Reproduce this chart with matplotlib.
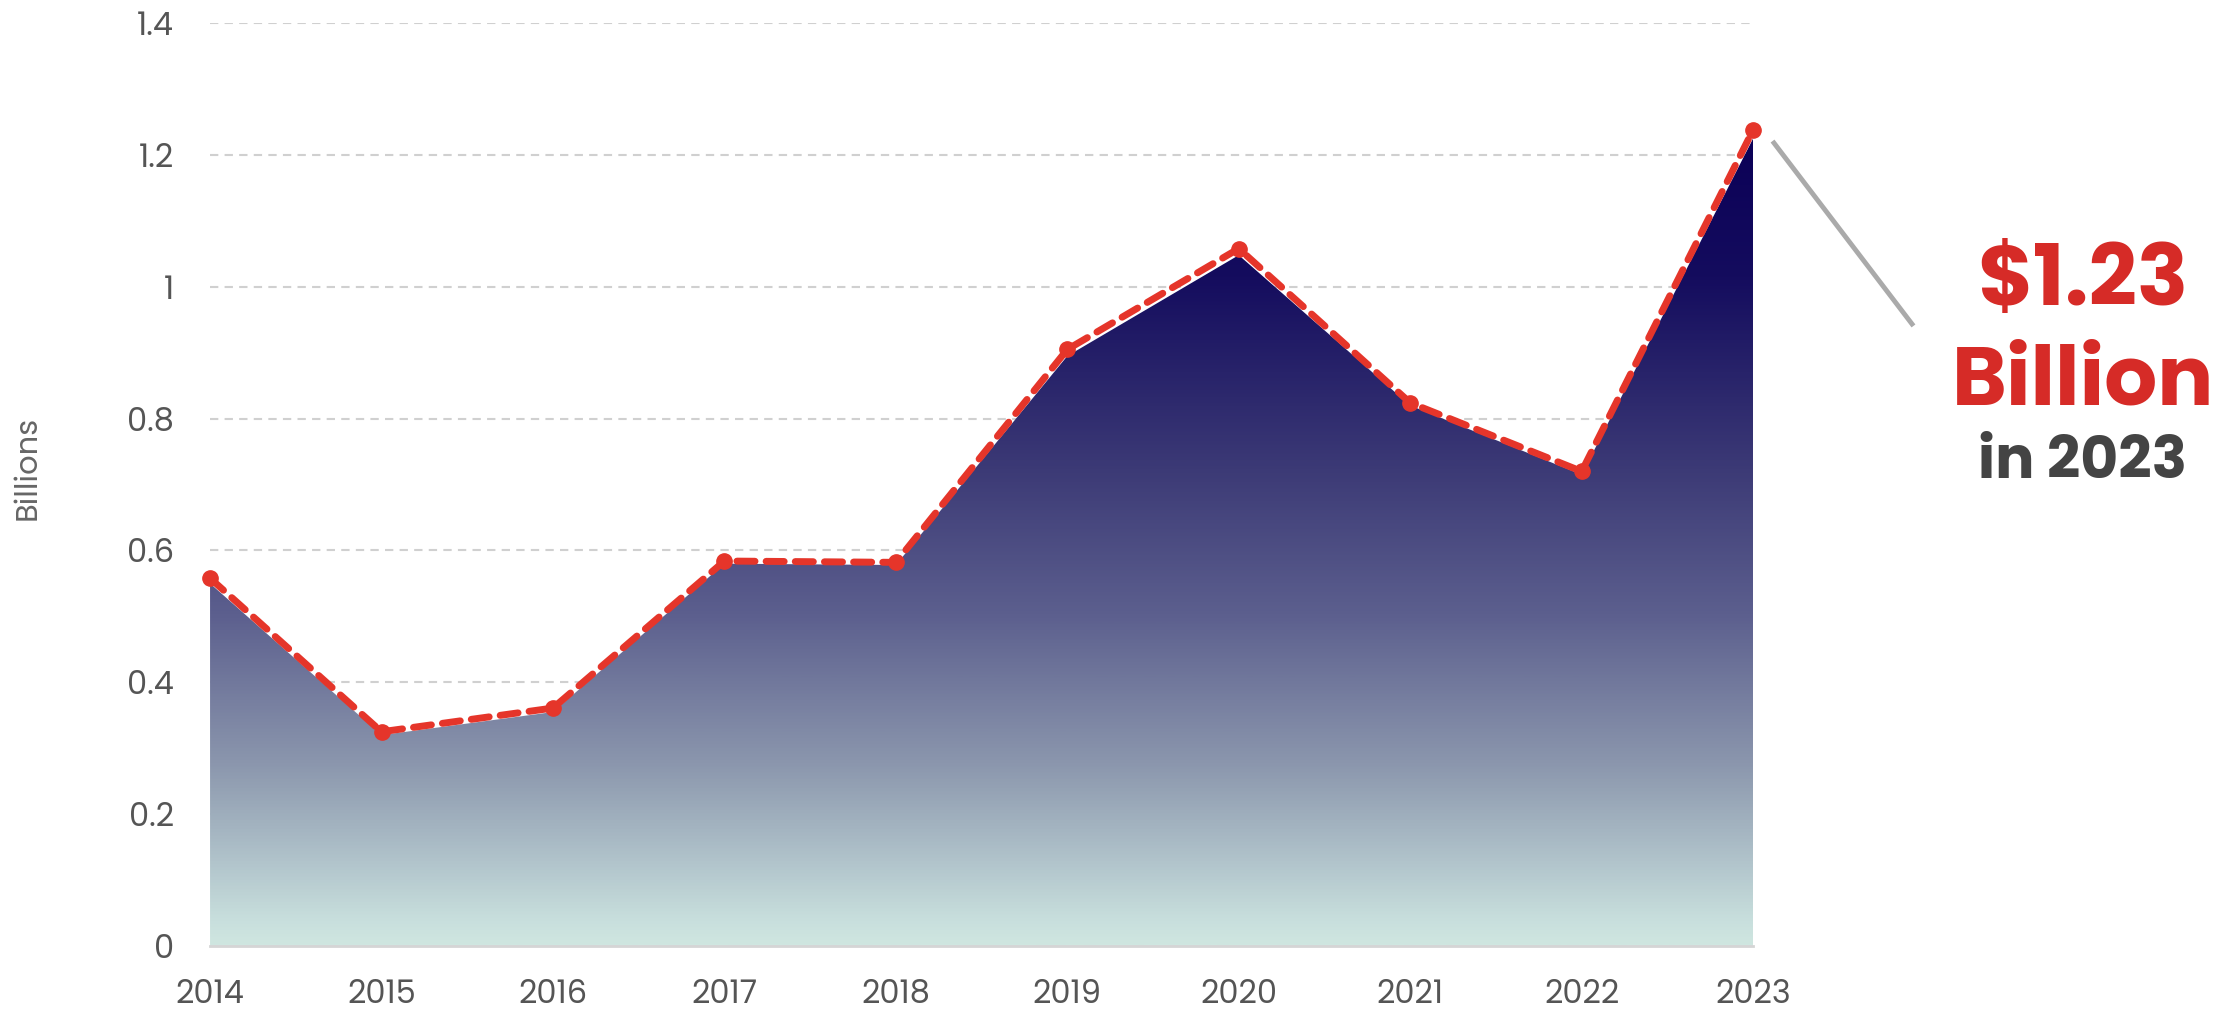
import numpy as np
import matplotlib
matplotlib.use("Agg")
import matplotlib.pyplot as plt
from matplotlib.colors import LinearSegmentedColormap
from matplotlib.patches import Polygon

# data (billions)
years = [2014, 2015, 2016, 2017, 2018, 2019, 2020, 2021, 2022, 2023]
area_values = [0.55, 0.32, 0.355, 0.58, 0.578, 0.895, 1.048, 0.82, 0.715, 1.225]
line_values = [0.558, 0.325, 0.361, 0.584, 0.582, 0.905, 1.058, 0.824, 0.72, 1.238]
y_ticks = [0, 0.2, 0.4, 0.6, 0.8, 1, 1.2, 1.4]
y_tick_labels = ["0", "0.2", "0.4", "0.6", "0.8", "1", "1.2", "1.4"]

plt.rcParams['font.family'] = ['Poppins', 'Lato', 'DejaVu Sans']

fig = plt.figure(figsize=(22.37, 10.13), dpi=100)
ax = fig.add_axes([0.0939, 0.0661, 0.6898, 0.9111])

# gradient fill under the area
grad = LinearSegmentedColormap.from_list("grad", [
    (0.0, "#cfe6e0"), (0.03, "#c8dfdd"), (0.22, "#8c98ae"), (0.41, "#5c5f8e"),
    (0.59, "#3c3a76"), (0.83, "#140c5e"), (1.0, "#0b0057")])
top = max(area_values)
img = ax.imshow(np.linspace(0, 1, 512).reshape(-1, 1), cmap=grad, origin="lower",
                extent=[years[0], years[-1], 0, top], aspect="auto", zorder=1)
poly = Polygon(list(zip(years, area_values)) + [(years[-1], 0), (years[0], 0)],
               closed=True, facecolor="none", edgecolor="none")
ax.add_patch(poly)
img.set_clip_path(poly)

# dashed red trend line with markers
ax.plot(years, line_values, color="#e5352a", lw=5, ls=(0, (2.6, 1.6)),
        dash_capstyle="round", zorder=3, clip_on=False)
ax.plot(years, line_values, "o", color="#e5352a", ms=11, zorder=4, clip_on=False)

ax.set_xlim(years[0], years[-1])
ax.set_ylim(0, 1.4)
ax.set_yticks(y_ticks)
ax.set_yticklabels(y_tick_labels)
ax.set_xticks(years)
ax.tick_params(length=0, labelsize=23, colors="#555555")
ax.tick_params(axis="y", pad=26)
ax.tick_params(axis="x", pad=24)
ax.grid(axis="y", color="#d0d0d0", ls=(0, (4, 3)), lw=1.5, zorder=0)
ax.set_axisbelow(True)
for s in ["top", "right", "left"]:
    ax.spines[s].set_visible(False)
ax.spines["bottom"].set_color("#d5d5d5")
ax.spines["bottom"].set_linewidth(2)

fig.text(0.0125, 0.538, "Billions", rotation=90, ha="center", va="center",
         fontsize=22, color="#666666")

# annotation on the right
fig.add_artist(plt.Line2D([1774 / 2237, 1912 / 2237], [1 - 143 / 1013, 1 - 324 / 1013],
                          color="#aaaaaa", lw=3.5))
fig.text(2083 / 2237, 1 - 285 / 1013, "$1.23", ha="center", va="center",
         fontsize=61, fontweight="bold", color="#d62b27")
fig.text(2083 / 2237, 1 - 385 / 1013, "Billion", ha="center", va="center",
         fontsize=60, fontweight="bold", color="#d62b27")
fig.text(2083 / 2237, 1 - 465 / 1013, "in 2023", ha="center", va="center",
         fontsize=42, fontweight="bold", color="#444444")

fig.savefig("out.png", dpi=100, facecolor="white")
